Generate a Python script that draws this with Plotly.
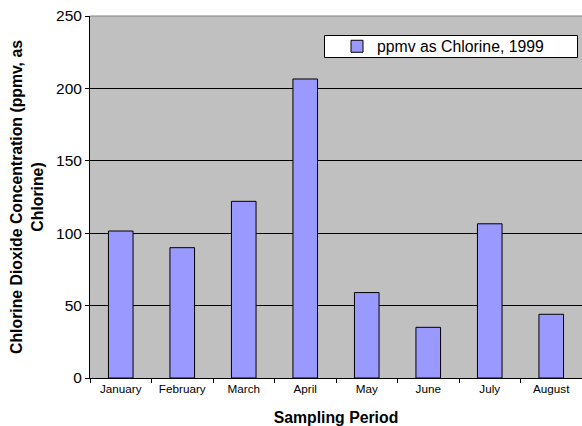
import plotly.graph_objects as go

months = ["January", "February", "March", "April", "May", "June", "July", "August"]
ppmv = [101.5, 90, 122, 206.5, 59, 35, 106.5, 44]
series_name = "ppmv as Chlorine, 1999"
y_ticks = [0, 50, 100, 150, 200, 250]

FONT = "Liberation Sans, Arial, sans-serif"

fig = go.Figure()
fig.add_trace(go.Bar(
    x=months, y=ppmv, name=series_name,
    marker=dict(color="#9999FF", line=dict(color="black", width=1)),
    showlegend=True,
))

fig.update_layout(
    width=582, height=426,
    margin=dict(l=90, r=0, t=16, b=48),
    paper_bgcolor="white",
    plot_bgcolor="#C0C0C0",
    bargap=0.6,
    font=dict(family=FONT, color="black"),
    showlegend=True,
    legend=dict(
        x=(337 - 90) / 492, xanchor="left",
        y=(378 - 46.5) / 362, yanchor="middle",
        bgcolor="rgba(0,0,0,0)", borderwidth=0,
        font=dict(size=15.8, family=FONT, color="black"),
    ),
    shapes=[
        dict(type="rect", xref="paper", yref="paper",
             x0=(324.5 - 90) / 492, x1=(577.5 - 90) / 492,
             y0=(378 - 57.5) / 362, y1=(378 - 35.5) / 362,
             fillcolor="white", line=dict(color="black", width=1), layer="below"),
        dict(type="line", xref="paper", yref="paper",
             x0=0, x1=1, y0=1, y1=1, line=dict(color="#808080", width=1)),
    ],
)

fig.update_xaxes(
    type="category",
    showline=True, linecolor="black", linewidth=1,
    ticks="outside", tickson="boundaries", ticklen=4, tickcolor="black",
    tickfont=dict(size=11.7, family=FONT, color="black"),
    showgrid=False,
    title=dict(text="<b>Sampling Period</b>", font=dict(size=15.8, family=FONT, color="black"), standoff=17),
)

fig.update_yaxes(
    range=[0, 250],
    tickvals=y_ticks,
    showline=True, linecolor="black", linewidth=1,
    ticks="outside", ticklen=4, tickcolor="black",
    tickfont=dict(size=15.5, family=FONT, color="black"),
    showgrid=True, gridcolor="black", gridwidth=1,
    zeroline=False,
    title=dict(text="<b>Chlorine Dioxide Concentration (ppmv, as<br>Chlorine)</b>",
               font=dict(size=15.8, family=FONT, color="black"), standoff=8),
)

fig.write_html("out.html")
